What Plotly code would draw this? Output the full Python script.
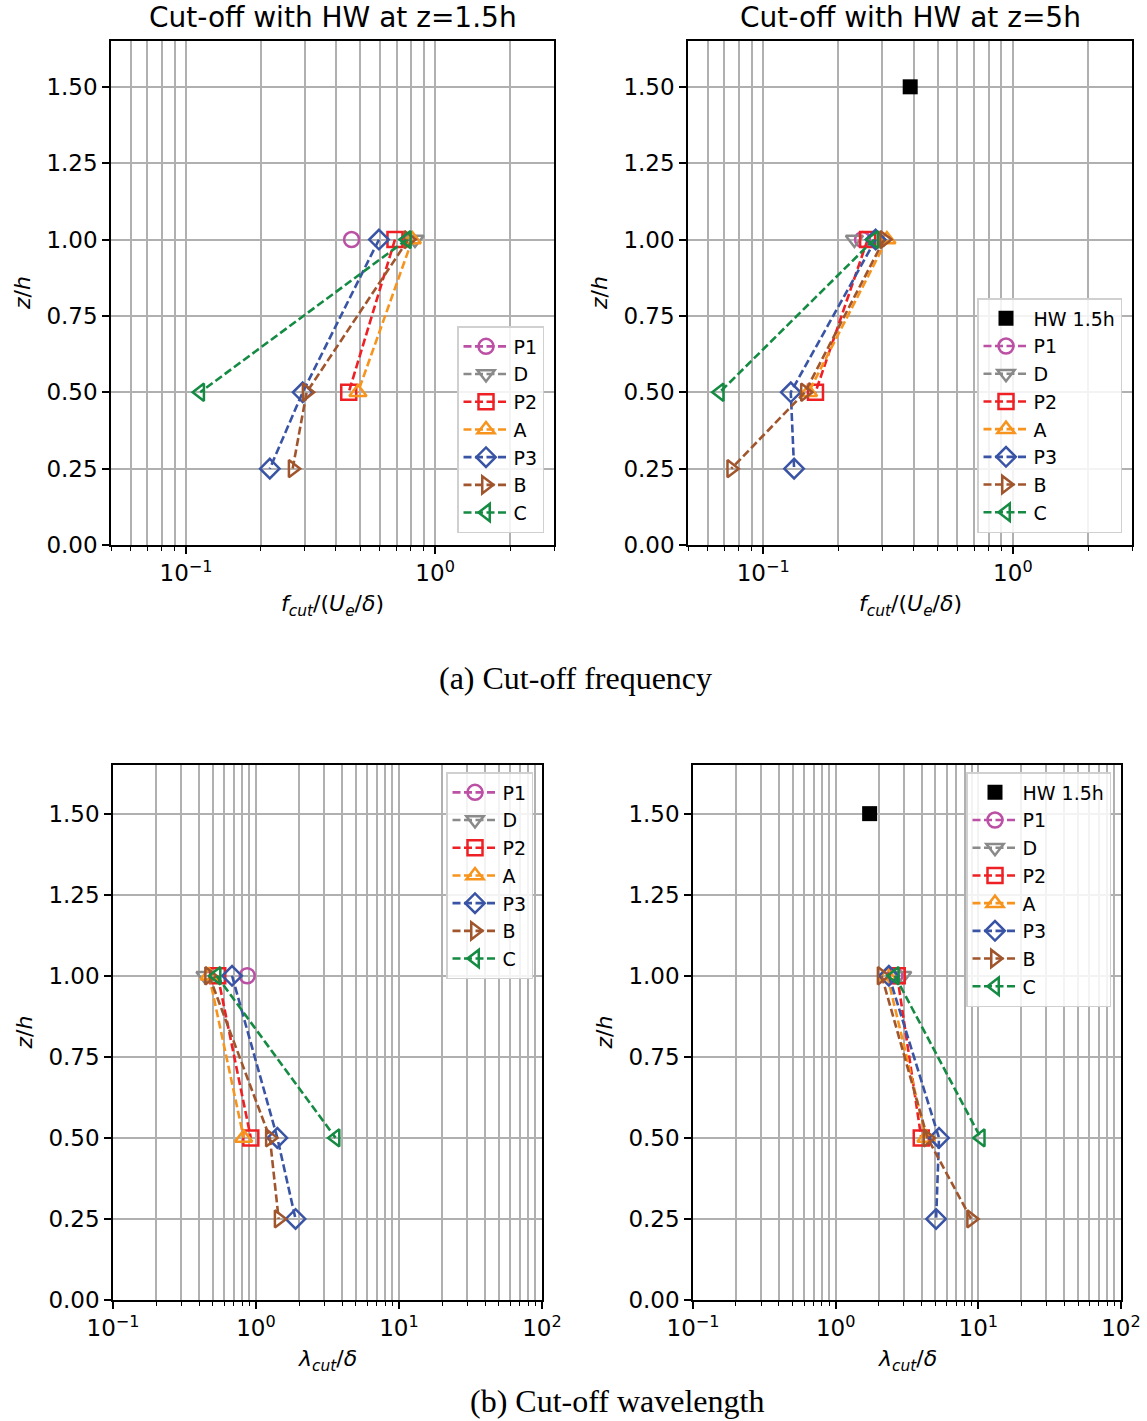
import plotly.graph_objects as go
import math

W, H = 1147, 1421

# ---------------- data ----------------
series_names = ["P1", "D", "P2", "A", "P3", "B", "C"]
series_colors = ["#bb50a5", "#8a8a8a", "#ee2024", "#f7941d", "#3a54a5", "#a0552d", "#148a43"]
series_symbols = ["circle-open", "triangle-down-open", "square-open", "triangle-up-open",
                  "diamond-open", "triangle-right-open", "triangle-left-open"]

z_P1 = [1.0]
z_D = [1.0]
z_P2 = [1.0, 0.5]
z_A = [1.0, 0.5]
z_P3 = [1.0, 0.5, 0.25]
z_B = [1.0, 0.5, 0.25]
z_C = [1.0, 0.5]
z_HW = [1.5]

# (a) cut-off frequency, HW at z=1.5h
fa1_P1 = [0.462]
fa1_D = [0.83]
fa1_P2 = [0.69, 0.45]
fa1_A = [0.81, 0.49]
fa1_P3 = [0.595, 0.294, 0.217]
fa1_B = [0.78, 0.305, 0.268]
fa1_C = [0.77, 0.114]

# (a) cut-off frequency, HW at z=5h
fa2_HW = [0.388]
fa2_P1 = [0.25]
fa2_D = [0.232]
fa2_P2 = [0.262, 0.162]
fa2_A = [0.313, 0.152]
fa2_P3 = [0.282, 0.129, 0.133]
fa2_B = [0.305, 0.147, 0.0745]
fa2_C = [0.278, 0.067]

# (b) cut-off wavelength, HW at z=1.5h
lb1_P1 = [0.868]
lb1_D = [0.44]
lb1_P2 = [0.54, 0.92]
lb1_A = [0.47, 0.82]
lb1_P3 = [0.68, 1.41, 1.89]
lb1_B = [0.47, 1.25, 1.44]
lb1_C = [0.53, 3.6]

# (b) cut-off wavelength, HW at z=5h
lb2_HW = [1.73]
lb2_P1 = [2.6]
lb2_D = [2.95]
lb2_P2 = [2.7, 3.98]
lb2_A = [2.3, 4.3]
lb2_P3 = [2.36, 5.3, 5.06]
lb2_B = [2.1, 4.4, 8.9]
lb2_C = [2.6, 10.4]

z_lists = [z_P1, z_D, z_P2, z_A, z_P3, z_B, z_C]
panel_series = [
    [fa1_P1, fa1_D, fa1_P2, fa1_A, fa1_P3, fa1_B, fa1_C],
    [fa2_P1, fa2_D, fa2_P2, fa2_A, fa2_P3, fa2_B, fa2_C],
    [lb1_P1, lb1_D, lb1_P2, lb1_A, lb1_P3, lb1_B, lb1_C],
    [lb2_P1, lb2_D, lb2_P2, lb2_A, lb2_P3, lb2_B, lb2_C],
]
panel_hw = [None, fa2_HW, None, lb2_HW]

y_ticks = [0.0, 0.25, 0.5, 0.75, 1.0, 1.25, 1.5]
titles = ["Cut-off with HW at z=1.5h", "Cut-off with HW at z=5h"]

# ---------------- layout geometry (pixels) ----------------
boxes = [  # x0, x1, ytop, ybottom
    (111, 554, 41, 545),
    (688, 1132, 41, 545),
    (113, 542, 765, 1300),
    (693, 1121, 765, 1300),
]
x_ranges = [(0.05, 3.0), (0.05, 3.0), (0.1, 100.0), (0.1, 100.0)]

FONT = "DejaVu Sans"
fig = go.Figure()


def major_minor(lo, hi):
    majors, minors = [], []
    e0 = math.floor(math.log10(lo)) - 1
    e1 = math.ceil(math.log10(hi)) + 1
    for e in range(e0, e1):
        for m in range(1, 10):
            v = m * 10 ** e
            if lo * 0.999 <= v <= hi * 1.001:
                (majors if m == 1 else minors).append(v)
    return majors, minors


def sup_label(v):
    e = int(round(math.log10(v)))
    s = str(e).replace("-", "\u2212")
    return f"10<sup>{s}</sup>"


legend_names = ["legend", "legend2", "legend3", "legend4"]

for i in range(4):
    ax = "" if i == 0 else str(i + 1)
    xa, ya = "x" + ax, "y" + ax
    x0, x1, yt, yb = boxes[i]
    lo, hi = x_ranges[i]
    majors, minors = major_minor(lo, hi)
    fig.update_layout(**{
        "xaxis" + ax: dict(
            type="log", range=[math.log10(lo), math.log10(hi)],
            domain=[x0 / W, x1 / W], anchor=ya, automargin=False,
            tickmode="array", tickvals=majors, ticktext=[sup_label(v) for v in majors],
            ticks="outside", ticklen=7, tickwidth=1.5, tickcolor="black",
            showgrid=True, gridcolor="#b0b0b0", gridwidth=1.6,
            minor=dict(tickmode="array", tickvals=minors, ticks="outside", ticklen=4,
                       tickwidth=1.2, tickcolor="black", showgrid=True,
                       gridcolor="#b0b0b0", gridwidth=1.6),
            showline=True, linecolor="black", linewidth=1.6, mirror=True,
            zeroline=False,
            tickfont=dict(family=FONT, size=23, color="black"),
        ),
        "yaxis" + ax: dict(
            range=[0, 1.65], domain=[1 - yb / H, 1 - yt / H], anchor=xa, automargin=False,
            tickmode="array", tickvals=y_ticks, tickformat=".2f",
            ticks="outside", ticklen=7, tickwidth=1.5, tickcolor="black",
            showgrid=True, gridcolor="#b0b0b0", gridwidth=1.6,
            showline=True, linecolor="black", linewidth=1.6, mirror=True,
            zeroline=False,
            tickfont=dict(family=FONT, size=23, color="black"),
        ),
    })
    lg = legend_names[i]
    if panel_hw[i] is not None:
        fig.add_trace(go.Scatter(
            x=panel_hw[i], y=z_HW, mode="markers", name="HW 1.5h",
            marker=dict(symbol="square", size=15, color="black"),
            xaxis=xa, yaxis=ya, legend=lg))
    for name, col, sym, zz, xx in zip(series_names, series_colors, series_symbols,
                                      z_lists, panel_series[i]):
        fig.add_trace(go.Scatter(
            x=xx, y=zz, mode="lines+markers", name=name,
            line=dict(color=col, width=2.6, dash="8px,3.5px"),
            marker=dict(symbol=sym, size=15, color=col, line=dict(width=2.5, color=col)),
            xaxis=xa, yaxis=ya, legend=lg))

legend_common = dict(
    bgcolor="rgba(255,255,255,0.85)", bordercolor="#d0d0d0", borderwidth=1.5,
    font=dict(family=FONT, size=19, color="black"), tracegroupgap=0,
    itemwidth=45,
)
fig.update_layout(
    legend=dict(x=544 / W, y=1 - 533 / H, xanchor="right", yanchor="bottom", **legend_common),
    legend2=dict(x=1122 / W, y=1 - 533 / H, xanchor="right", yanchor="bottom", **legend_common),
    legend3=dict(x=533 / W, y=1 - 772 / H, xanchor="right", yanchor="top", **legend_common),
    legend4=dict(x=1111 / W, y=1 - 772 / H, xanchor="right", yanchor="top", **legend_common),
)

annotations = []
# subplot titles
for i, t in enumerate(titles):
    x0, x1, yt, yb = boxes[i]
    annotations.append(dict(text=t, x=(x0 + x1) / 2 / W, y=1 - 18 / H, xref="paper", yref="paper",
                            showarrow=False, xanchor="center", yanchor="middle",
                            font=dict(family=FONT, size=28, color="black")))
# axis titles
xlab_f = "<i>f</i><sub><i>cut</i></sub>/(<i>U</i><sub><i>e</i></sub>/<i>δ</i>)"
xlab_l = "<i>λ</i><sub><i>cut</i></sub>/<i>δ</i>"
ylab = "<i>z</i>/<i>h</i>"
xlab_y = [605, 605, 1360, 1360]
for i in range(4):
    x0, x1, yt, yb = boxes[i]
    annotations.append(dict(text=xlab_f if i < 2 else xlab_l, x=(x0 + x1) / 2 / W, y=1 - xlab_y[i] / H,
                            xref="paper", yref="paper", showarrow=False, xanchor="center",
                            yanchor="middle", font=dict(family=FONT, size=22, color="black")))
    annotations.append(dict(text=ylab, x=(x0 - 89) / W, y=1 - (yt + yb) / 2 / H,
                            xref="paper", yref="paper", showarrow=False, textangle=-90,
                            xanchor="center", yanchor="middle",
                            font=dict(family=FONT, size=22, color="black")))
# captions
annotations.append(dict(text="(a) Cut-off frequency", x=575 / W, y=1 - 678 / H, xref="paper",
                        yref="paper", showarrow=False, xanchor="center", yanchor="middle",
                        font=dict(family="Liberation Serif", size=32, color="black")))
annotations.append(dict(text="(b) Cut-off wavelength", x=617 / W, y=1 - 1401 / H, xref="paper",
                        yref="paper", showarrow=False, xanchor="center", yanchor="middle",
                        font=dict(family="Liberation Serif", size=32, color="black")))

fig.update_layout(
    width=W, height=H, autosize=False,
    margin=dict(l=0, r=0, t=0, b=0),
    paper_bgcolor="white", plot_bgcolor="white",
    annotations=annotations,
    showlegend=True,
)

fig.write_html(
    "out.html",
    config={"displayModeBar": False},
    post_script="document.body.style.margin='0px'; document.body.style.overflow='hidden';",
)
